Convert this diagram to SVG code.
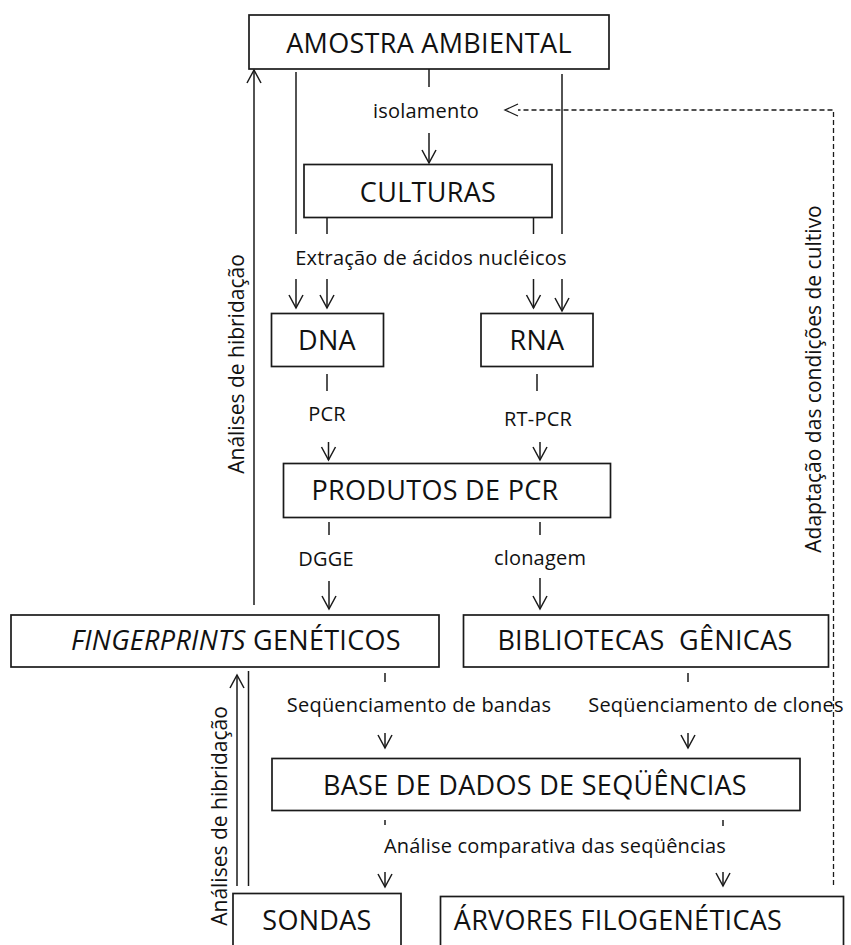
<svg xmlns="http://www.w3.org/2000/svg" width="851" height="945" viewBox="0 0 851 945">
<style>
  .box{fill:#fff;stroke:#1a1a1a;stroke-width:1.7}
  .bl{font-family:"Open Sans","Liberation Sans",sans-serif;font-size:27px;fill:#111;text-anchor:middle;letter-spacing:0.3px}
  .lb{font-family:"Open Sans","Liberation Sans",sans-serif;font-size:20px;fill:#111;text-anchor:middle;letter-spacing:0.2px}
  .rl{font-family:"Open Sans","Liberation Sans",sans-serif;font-size:21px;fill:#111;text-anchor:middle}
  .ln{fill:none;stroke:#1a1a1a;stroke-width:1.5}
  .ar{fill:none;stroke:#1a1a1a;stroke-width:1.5;marker-end:url(#ah)}
  .da{fill:none;stroke:#1a1a1a;stroke-width:1.3;stroke-dasharray:5,3}
</style>
<defs>
  <marker id="ah" markerUnits="userSpaceOnUse" markerWidth="20" markerHeight="20" viewBox="-15 -10 18 20" refX="0" refY="0" orient="auto">
    <path d="M-13,-7 L0,0 L-13,7" fill="none" stroke="#1a1a1a" stroke-width="1.5"/>
  </marker>
</defs>
<rect width="851" height="945" fill="#fff"/>

<g id="connectors">
  <line class="ln" x1="429" y1="69" x2="429" y2="87"/>
  <line class="ar" x1="429" y1="133" x2="429" y2="163"/>
  <line class="ln" x1="296" y1="72" x2="296" y2="234"/>
  <line class="ar" x1="296" y1="279" x2="296" y2="308"/>
  <line class="ln" x1="562" y1="74" x2="562" y2="234"/>
  <line class="ar" x1="562" y1="279" x2="562" y2="311"/>
  <line class="ln" x1="327" y1="218" x2="327" y2="234"/>
  <line class="ar" x1="327" y1="279" x2="327" y2="308"/>
  <line class="ln" x1="533.5" y1="218" x2="533.5" y2="234"/>
  <line class="ar" x1="533.5" y1="279" x2="533.5" y2="308"/>
  <line class="ln" x1="327" y1="374" x2="327" y2="391"/>
  <line class="ar" x1="328.5" y1="442" x2="328.5" y2="460"/>
  <line class="ln" x1="537" y1="374" x2="537" y2="391"/>
  <line class="ar" x1="540" y1="442" x2="540" y2="460"/>
  <line class="ln" x1="329" y1="522" x2="329" y2="535"/>
  <line class="ar" x1="329" y1="581" x2="329" y2="609"/>
  <line class="ln" x1="540" y1="522" x2="540" y2="535"/>
  <line class="ar" x1="540" y1="578" x2="540" y2="609"/>
  <line class="ar" x1="254" y1="605" x2="254" y2="70"/>
  <line class="ln" x1="385" y1="673" x2="385" y2="682"/>
  <line class="ar" x1="385" y1="733" x2="385" y2="748"/>
  <line class="ln" x1="688" y1="673" x2="688" y2="682"/>
  <line class="ar" x1="688" y1="733" x2="688" y2="748"/>
  <line class="ln" x1="385" y1="820" x2="385" y2="825"/>
  <line class="ar" x1="385" y1="872" x2="385" y2="887"/>
  <line class="ln" x1="723" y1="820" x2="723" y2="826"/>
  <line class="ar" x1="723" y1="872" x2="723" y2="886"/>
  <line class="ar" x1="237" y1="886" x2="237" y2="675"/>
  <line class="ln" x1="248.5" y1="886" x2="248.5" y2="671"/>
  <polyline class="da" points="833.5,885 833.5,110 518,110"/>
  <path d="M518,104 L505,110 L518,116" fill="none" stroke="#1a1a1a" stroke-width="1.3"/>
</g>

<g id="labels">
  <text class="lb" x="426" y="118">isolamento</text>
  <text class="lb" x="431" y="265">Extração de ácidos nucléicos</text>
  <text class="lb" x="327" y="421">PCR</text>
  <text class="lb" x="538" y="426">RT-PCR</text>
  <text class="lb" x="326" y="566">DGGE</text>
  <text class="lb" x="540" y="565">clonagem</text>
  <text class="lb" x="419" y="712">Seqüenciamento de bandas</text>
  <text class="lb" x="716" y="712">Seqüenciamento de clones</text>
  <text class="lb" x="555" y="853">Análise comparativa das seqüências</text>
  <text class="rl" transform="translate(243.5,364) rotate(-90)">Análises de hibridação</text>
  <text class="rl" transform="translate(227,816) rotate(-90)">Análises de hibridação</text>
  <text class="rl" transform="translate(820.5,379) rotate(-90)">Adaptação das condições de cultivo</text>
</g>

<g id="amostra">
  <rect class="box" x="249" y="15" width="360" height="54"/>
  <text class="bl" x="429" y="53">AMOSTRA AMBIENTAL</text>
</g>
<g id="culturas">
  <rect class="box" x="304" y="164.5" width="248" height="53"/>
  <text class="bl" x="428" y="202">CULTURAS</text>
</g>
<g id="dna">
  <rect class="box" x="271.5" y="313.5" width="112" height="53"/>
  <text class="bl" x="327" y="350">DNA</text>
</g>
<g id="rna">
  <rect class="box" x="481" y="313.5" width="112" height="53"/>
  <text class="bl" x="537" y="350">RNA</text>
</g>
<g id="produtos">
  <rect class="box" x="283.5" y="463.5" width="327" height="54"/>
  <text class="bl" x="435" y="500">PRODUTOS DE PCR</text>
</g>
<g id="fingerprints">
  <rect class="box" x="11" y="615" width="428" height="52"/>
  <text class="bl" x="236" y="650"><tspan font-style="italic">FINGERPRINTS</tspan> GENÉTICOS</text>
</g>
<g id="bibliotecas">
  <rect class="box" x="463.5" y="615" width="365" height="52"/>
  <text class="bl" x="645" y="650" style="white-space:pre">BIBLIOTECAS  GÊNICAS</text>
</g>
<g id="base">
  <rect class="box" x="272" y="758.5" width="528" height="52"/>
  <text class="bl" x="535" y="795">BASE DE DADOS DE SEQÜÊNCIAS</text>
</g>
<g id="sondas">
  <rect class="box" x="233" y="893.5" width="168" height="80"/>
  <text class="bl" x="317" y="930">SONDAS</text>
</g>
<g id="arvores">
  <rect class="box" x="440.5" y="896.5" width="403" height="80"/>
  <text class="bl" x="618" y="930">ÁRVORES FILOGENÉTICAS</text>
</g>
</svg>
